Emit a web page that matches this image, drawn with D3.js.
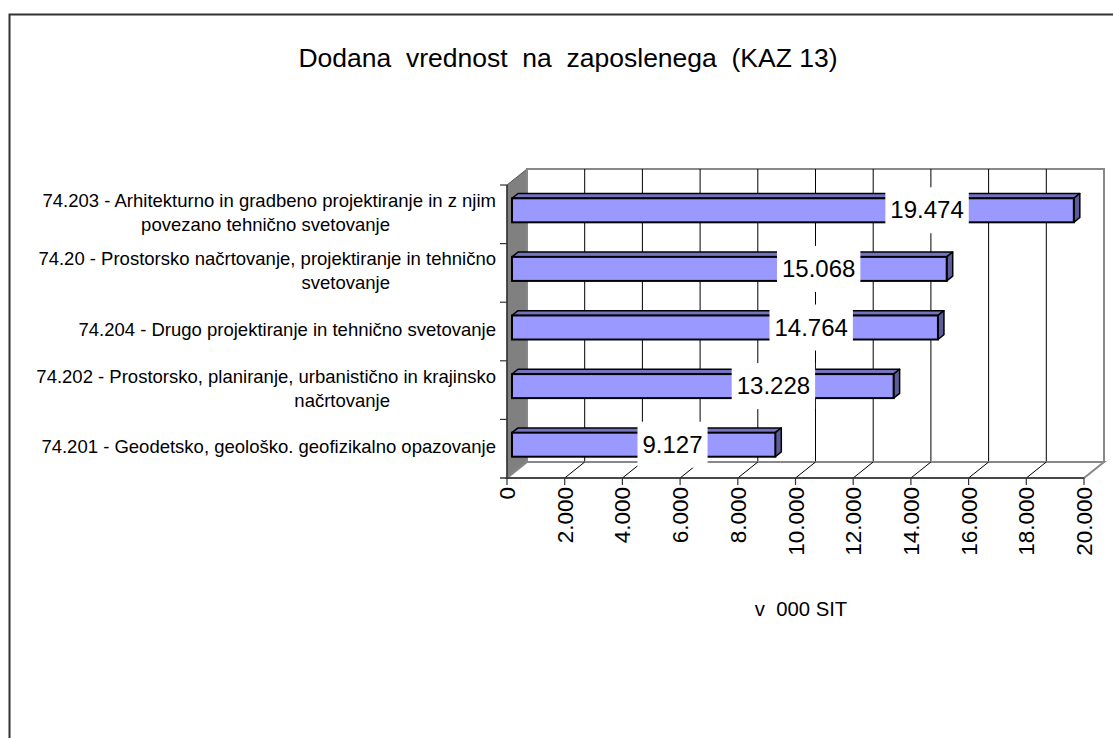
<!DOCTYPE html>
<html><head><meta charset="utf-8">
<script src="https://cdn.jsdelivr.net/npm/d3@7"></script>
<style>
html,body{margin:0;padding:0;background:#fff;}
svg{display:block;font-family:Arial,"Liberation Sans",sans-serif;}
</style></head>
<body>
<svg id="c" width="1113" height="738"></svg>
<script>
const titleText = "Dodana  vrednost  na  zaposlenega  (KAZ 13)";
const axisTitle = "v  000 SIT";
const categories = [
  ["74.203 - Arhitekturno in gradbeno projektiranje in z njim", "povezano tehnično svetovanje"],
  ["74.20 - Prostorsko načrtovanje, projektiranje in tehnično", "svetovanje"],
  ["74.204 - Drugo projektiranje in tehnično svetovanje"],
  ["74.202 - Prostorsko, planiranje, urbanistično in krajinsko", "načrtovanje"],
  ["74.201 - Geodetsko, geološko. geofizikalno opazovanje"]
];
const values = [19474, 15068, 14764, 13228, 9127];
const tickValues = [0, 2000, 4000, 6000, 8000, 10000, 12000, 14000, 16000, 18000, 20000];

const svg = d3.select("#c");
const fmt = v => d3.format(",")(v).replace(/,/g, ".");

// geometry
const x0 = 507, x1 = 1084, yTop = 185, yBot = 478;
const DX = 20, DY = -16;       // depth vector
const d1 = 0.25, d2 = 0.55;    // bar depth positions

const x = d3.scaleLinear().domain([0, 20000]).range([x0, x1]);
const y = d3.scaleBand().domain(d3.range(categories.length)).range([yTop, yBot]).padding(0);
const xLabel = d3.scaleLinear().domain([0, 20000]).range([448, 940]);

// outer frame
svg.append("rect").attr("x", 9.5).attr("y", 14.5).attr("width", 1200).attr("height", 800)
  .attr("fill", "none").attr("stroke", "#333").attr("stroke-width", 2);

// title
svg.append("text").attr("x", 568).attr("y", 67).attr("text-anchor", "middle")
  .attr("font-size", 26.5).attr("fill", "#000").style("white-space", "pre").text(titleText);

const g = svg.append("g");

// side wall
g.append("polygon")
  .attr("points", [[x0, yTop], [x0 + DX, yTop + DY], [x0 + DX, yBot + DY], [x0, yBot]].map(p => p.join(",")).join(" "))
  .attr("fill", "#808080").attr("stroke", "#555").attr("stroke-width", 1);

// back wall
g.append("rect").attr("x", x0 + DX).attr("y", yTop + DY).attr("width", x1 - x0).attr("height", yBot - yTop)
  .attr("fill", "#fff").attr("stroke", "#888").attr("stroke-width", 2);

// gridlines on back wall
g.selectAll(".grid").data(tickValues.filter(v => v > 0 && v < 20000)).enter().append("line")
  .attr("x1", d => x(d) + DX).attr("x2", d => x(d) + DX)
  .attr("y1", yTop + DY).attr("y2", yBot + DY)
  .attr("stroke", "#000").attr("stroke-width", 1);

// floor
g.append("polygon")
  .attr("points", [[x0, yBot], [x0 + DX, yBot + DY], [x1 + DX, yBot + DY], [x1, yBot]].map(p => p.join(",")).join(" "))
  .attr("fill", "#fff").attr("stroke", "#888").attr("stroke-width", 2);
g.selectAll(".fl").data(tickValues.filter(v => v > 0 && v < 20000)).enter().append("line")
  .attr("x1", d => x(d)).attr("y1", yBot).attr("x2", d => x(d) + DX).attr("y2", yBot + DY)
  .attr("stroke", "#000").attr("stroke-width", 1);

// front axes
g.append("line").attr("x1", x0).attr("x2", x0).attr("y1", yTop).attr("y2", yBot).attr("stroke", "#333").attr("stroke-width", 1.5);
g.append("line").attr("x1", x0 - 7).attr("x2", x1).attr("y1", yBot).attr("y2", yBot).attr("stroke", "#333").attr("stroke-width", 1.5);
g.selectAll(".ct").data(d3.range(categories.length)).enter().append("line")
  .attr("x1", x0 - 7).attr("x2", x0).attr("y1", d => y(d)).attr("y2", d => y(d))
  .attr("stroke", "#333").attr("stroke-width", 1.2);
g.selectAll(".xt").data(tickValues).enter().append("line")
  .attr("x1", d => x(d)).attr("x2", d => x(d)).attr("y1", yBot).attr("y2", yBot + 7)
  .attr("stroke", "#333").attr("stroke-width", 1.2);

// tick labels
g.selectAll(".xl").data(tickValues).enter().append("text")
  .attr("transform", d => `translate(${x(d) + 8},${yBot + 9}) rotate(-90)`)
  .attr("text-anchor", "end").attr("font-size", 22.5).attr("fill", "#000")
  .text(d => fmt(d));

// axis title
svg.append("text").attr("x", 801).attr("y", 616).attr("text-anchor", "middle")
  .attr("font-size", 20.3).style("white-space", "pre").text(axisTitle);

// category labels
categories.forEach((lines, i) => {
  const cy = y(i) + y.bandwidth() / 2 - 2;
  const n = lines.length;
  lines.forEach((ln, j) => {
    svg.append("text")
      .attr("x", j === 0 ? 496 : 390)
      .attr("y", cy + (j - (n - 1) / 2) * 24 + 6.5)
      .attr("text-anchor", "end").attr("font-size", 18.5).attr("fill", "#000")
      .text(ln);
  });
});

// bars
const barH = y.bandwidth() * 0.41;
const bars = g.selectAll(".bar").data(values).enter().append("g");
bars.each(function(v, i) {
  const sel = d3.select(this);
  const cy = y(i) + y.bandwidth() / 2;
  const fx0 = x(0) + DX * d1, fx1 = x(v) + DX * d1;
  const fy0 = cy + DY * d1 - barH / 2, fy1 = fy0 + barH;
  const ox = DX * (d2 - d1), oy = DY * (d2 - d1);
  const pts = a => a.map(p => p.join(",")).join(" ");
  sel.append("polygon").attr("points", pts([[fx0, fy0], [fx0 + ox, fy0 + oy], [fx1 + ox, fy0 + oy], [fx1, fy0]]))
    .attr("fill", "#7373C0").attr("stroke", "#000").attr("stroke-width", 1.5).attr("stroke-linejoin", "round");
  sel.append("polygon").attr("points", pts([[fx1, fy0], [fx1 + ox, fy0 + oy], [fx1 + ox, fy1 + oy], [fx1, fy1]]))
    .attr("fill", "#5C5C99").attr("stroke", "#000").attr("stroke-width", 1.5).attr("stroke-linejoin", "round");
  sel.append("rect").attr("x", fx0).attr("y", fy0).attr("width", fx1 - fx0).attr("height", barH)
    .attr("fill", "#9999FF").attr("stroke", "#000").attr("stroke-width", 2);
});

// data labels
values.forEach((v, i) => {
  const cy = y(i) + y.bandwidth() / 2 + DY * d1;
  const cx = xLabel(v);
  const t = svg.append("text").attr("x", cx).attr("y", cy + 8).attr("text-anchor", "middle")
    .attr("font-size", 24).attr("fill", "#000").text(fmt(v));
  const w = t.node().getComputedTextLength();
  svg.insert("rect", () => t.node()).attr("x", cx - w / 2 - 5).attr("y", cy - 23).attr("width", w + 10).attr("height", 46)
    .attr("fill", "#fff");
});
</script>
</body></html>
